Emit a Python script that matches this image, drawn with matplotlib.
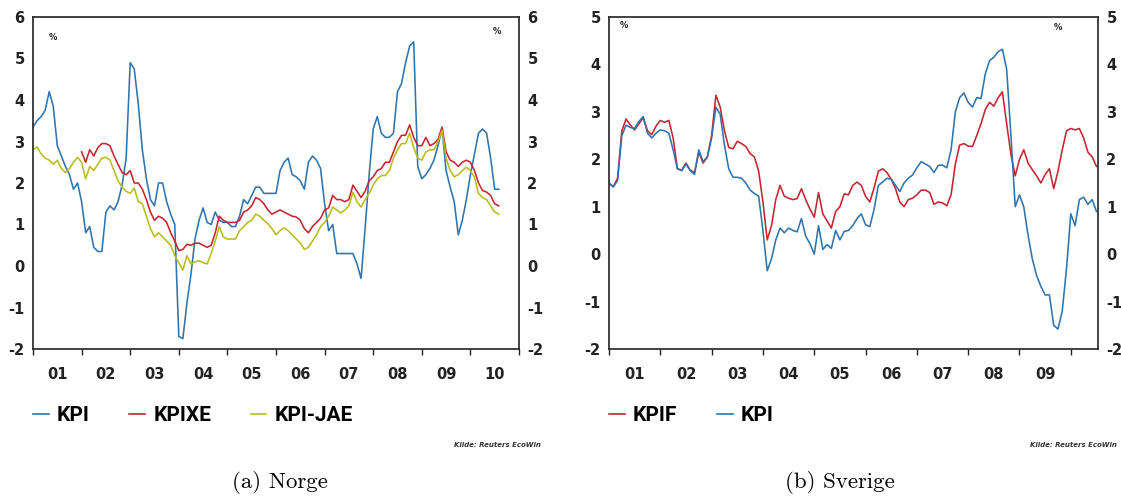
import numpy as np
import matplotlib
matplotlib.use('Agg')
import matplotlib.pyplot as plt
from matplotlib.lines import Line2D

# ---------------- data (monthly, 12-month change in %) ----------------
start_year = 2001

# Norway, Jan 2001 - Aug 2010
no_kpi = [3.35, 3.5, 3.6, 3.75, 4.2, 3.85, 2.9, 2.65, 2.4, 2.2, 1.85, 2.0,
          1.55, 0.8, 0.95, 0.45, 0.35, 0.35, 1.3, 1.45, 1.35, 1.55, 1.95, 2.6,
          4.9, 4.75, 3.9, 2.8, 2.1, 1.6, 1.45, 2.0, 2.0, 1.55, 1.25, 1.0,
          -1.7, -1.75, -0.9, -0.2, 0.65, 1.1, 1.4, 1.05, 1.0, 1.3, 1.1, 1.05,
          1.05, 0.95, 0.95, 1.2, 1.6, 1.5, 1.7, 1.9, 1.9, 1.75, 1.75, 1.75,
          1.75, 2.3, 2.5, 2.6, 2.2, 2.15, 2.05, 1.85, 2.5, 2.65, 2.55, 2.35,
          1.5, 0.85, 1.0, 0.3, 0.3, 0.3, 0.3, 0.3, 0.05, -0.3, 0.9, 2.2,
          3.3, 3.6, 3.2, 3.1, 3.1, 3.2, 4.2, 4.4, 4.9, 5.3, 5.4, 2.4,
          2.1, 2.2, 2.35, 2.55, 2.9, 3.3, 2.3, 1.9, 1.55, 0.75, 1.1, 1.6,
          2.2, 2.7, 3.2, 3.3, 3.2, 2.6, 1.85, 1.85]
# KPIXE starts Jan 2002
no_kpixe = [2.75, 2.5, 2.8, 2.65, 2.85, 2.95, 2.95, 2.9, 2.65, 2.45, 2.25, 2.2,
            2.3, 2.0, 2.0, 1.85, 1.6, 1.3, 1.1, 1.2, 1.15, 1.05, 0.8, 0.6,
            0.37, 0.4, 0.52, 0.5, 0.55, 0.55, 0.5, 0.45, 0.5, 0.8, 1.2, 1.1,
            1.05, 1.05, 1.05, 1.1, 1.3, 1.35, 1.45, 1.65, 1.6, 1.5, 1.35, 1.25,
            1.3, 1.35, 1.3, 1.25, 1.2, 1.18, 1.1, 0.9, 0.8, 0.95, 1.05, 1.15,
            1.35, 1.4, 1.7, 1.6, 1.6, 1.55, 1.6, 1.95, 1.8, 1.65, 1.8, 2.05,
            2.15, 2.3, 2.35, 2.5, 2.5, 2.75, 3.0, 3.15, 3.15, 3.4, 3.1, 2.9,
            2.9, 3.1, 2.9, 2.95, 3.05, 3.35, 2.75, 2.55, 2.5, 2.4, 2.5, 2.55,
            2.5, 2.3, 2.0, 1.82, 1.78, 1.7, 1.5, 1.45]
no_kpijae = [2.8, 2.87, 2.7, 2.6, 2.55, 2.45, 2.55, 2.35, 2.25, 2.35, 2.5, 2.62,
             2.5, 2.1, 2.4, 2.3, 2.45, 2.6, 2.62, 2.55, 2.3, 2.05, 1.9, 1.8,
             1.75, 1.88, 1.55, 1.5, 1.2, 0.9, 0.7, 0.8, 0.7, 0.6, 0.5, 0.25,
             0.08, -0.1, 0.25, 0.05, 0.1, 0.13, 0.08, 0.05, 0.3, 0.6, 0.95, 0.7,
             0.65, 0.65, 0.65, 0.85, 0.95, 1.05, 1.1, 1.25, 1.2, 1.1, 1.02, 0.9,
             0.75, 0.85, 0.92, 0.85, 0.75, 0.65, 0.55, 0.4, 0.45, 0.6, 0.75, 0.95,
             1.05, 1.2, 1.42, 1.35, 1.28, 1.35, 1.45, 1.78, 1.55, 1.42, 1.6, 1.75,
             1.95, 2.1, 2.18, 2.18, 2.3, 2.6, 2.8, 2.95, 2.95, 3.2, 2.85, 2.6,
             2.55, 2.75, 2.8, 2.8, 3.0, 3.27, 2.6, 2.3, 2.15, 2.2, 2.3, 2.38,
             2.3, 2.14, 1.75, 1.65, 1.6, 1.45, 1.3, 1.25]

# Sweden, Jan 2001 - Jul 2010
se_kpif = [1.5, 1.42, 1.6, 2.6, 2.85, 2.72, 2.62, 2.75, 2.88, 2.6, 2.52, 2.7,
           2.82, 2.78, 2.82, 2.45, 1.8, 1.77, 1.92, 1.77, 1.72, 2.15, 1.92, 2.05,
           2.5, 3.35, 3.1, 2.6, 2.25, 2.22, 2.38, 2.33, 2.27, 2.12, 2.05, 1.75,
           1.1, 0.3, 0.6, 1.15, 1.45, 1.22, 1.18, 1.15, 1.17, 1.38, 1.15, 0.95,
           0.78, 1.3, 0.85, 0.7, 0.55, 0.9, 1.0, 1.27, 1.25, 1.45, 1.52, 1.45,
           1.22, 1.1, 1.4, 1.75, 1.8, 1.72, 1.58, 1.38, 1.1, 1.0, 1.15, 1.18,
           1.25, 1.35, 1.35, 1.3, 1.05, 1.1, 1.08, 1.02, 1.25, 1.9, 2.3, 2.33,
           2.28, 2.27, 2.5, 2.75, 3.05, 3.2, 3.12, 3.3, 3.42, 2.75, 2.1, 1.65,
           2.0, 2.2, 1.92, 1.78, 1.65, 1.5, 1.68, 1.8, 1.38, 1.75, 2.2, 2.6,
           2.65, 2.62, 2.65, 2.45, 2.15, 2.05, 1.85]
se_kpi = [1.5, 1.42, 1.55, 2.5, 2.72, 2.67, 2.65, 2.8, 2.9, 2.55, 2.45, 2.55,
          2.62, 2.6, 2.55, 2.2, 1.8, 1.76, 1.9, 1.76, 1.68, 2.2, 1.95, 2.05,
          2.45, 3.1, 2.95, 2.3, 1.8, 1.62, 1.62, 1.6, 1.5, 1.35, 1.28, 1.22,
          0.5, -0.35, -0.1, 0.3, 0.55, 0.45, 0.55, 0.5, 0.47, 0.75, 0.38, 0.22,
          0.0, 0.6, 0.1, 0.2, 0.12, 0.5, 0.3, 0.48, 0.5, 0.6, 0.75, 0.85,
          0.62, 0.58, 0.95, 1.45, 1.52, 1.6, 1.58, 1.45, 1.32, 1.5, 1.6, 1.67,
          1.82, 1.95, 1.9, 1.85, 1.72, 1.87, 1.88, 1.82, 2.2, 3.0, 3.3, 3.4,
          3.2, 3.1, 3.3, 3.28, 3.8, 4.08, 4.15, 4.27, 4.32, 3.9, 2.5, 1.0,
          1.25, 1.0, 0.4, -0.1, -0.45, -0.68, -0.86, -0.86, -1.5, -1.58, -1.2, -0.3,
          0.85, 0.6, 1.15, 1.2, 1.05, 1.15, 0.9]

no_year_labels = ['01', '02', '03', '04', '05', '06', '07', '08', '09', '10']
se_year_labels = ['01', '02', '03', '04', '05', '06', '07', '08', '09']
no_legend = ['KPI', 'KPIXE', 'KPI-JAE']
se_legend = ['KPIF', 'KPI']

# ---------------- style ----------------
C_BLUE = '#2f74ad'
C_RED = '#c62530'
C_YEL = '#b9bc1c'
LW = 1.15
plt.rcParams['font.family'] = ['DejaVu Sans']

W, H = 1121, 501
fig = plt.figure(figsize=(W / 100, H / 100), dpi=100)


def axes_px(x0, x1, y0, y1):
    return fig.add_axes([x0 / W, 1 - y1 / H, (x1 - x0) / W, (y1 - y0) / H])


ax1 = axes_px(33, 519, 17, 349)
ax2 = axes_px(609, 1098, 17, 349)


def months(n, offset=0):
    return start_year + (np.arange(n) + offset) / 12.0


def style(ax, xmax, ymin, ymax, labels):
    ax.set_xlim(start_year, xmax)
    ax.set_ylim(ymin, ymax)
    n = len(labels)
    ax.set_xticks(np.arange(start_year, start_year + n + 1))
    ax.set_xticklabels([])
    ax.set_xticks(np.arange(n) + start_year + 0.5, minor=True)
    ax.set_xticklabels(labels, minor=True, fontweight='bold', fontsize=10.5,
                       color='#222222')
    ax.tick_params(axis='x', which='major', direction='out', length=4,
                   width=1.0, color='#222222')
    ax.tick_params(axis='x', which='minor', length=0, pad=13)
    ax.set_yticks(np.arange(ymin, ymax + 1))
    ax.set_yticklabels([str(v) for v in range(ymin, ymax + 1)],
                       fontweight='bold', fontsize=10.5, color='#222222')
    ax.tick_params(axis='y', length=0, pad=6, labelleft=True, labelright=True)
    for s in ax.spines.values():
        s.set_linewidth(1.2)
        s.set_color('#222222')


# Norway
ax1.plot(months(len(no_kpi)), no_kpi, color=C_BLUE, lw=LW)
ax1.plot(months(len(no_kpixe), 12), no_kpixe, color=C_RED, lw=LW)
ax1.plot(months(len(no_kpijae)), no_kpijae, color=C_YEL, lw=LW)
style(ax1, 2010.74, -2, 6, no_year_labels)

# Sweden
ax2.plot(months(len(se_kpif)), se_kpif, color=C_RED, lw=LW)
ax2.plot(months(len(se_kpi)), se_kpi, color=C_BLUE, lw=LW)
style(ax2, 2010.53, -2, 5, se_year_labels)

leg_font = {'family': ['Roboto', 'DejaVu Sans'], 'weight': 'bold', 'size': 15}


def legend(ax, colors, labels):
    handles = [Line2D([0], [0], color=c, lw=1.2) for c in colors]
    ax.legend(handles, labels, loc='center left', bbox_to_anchor=(0.0, -0.2),
              ncol=len(labels), frameon=False, handlelength=0.75,
              handletextpad=0.4, columnspacing=1.9, borderpad=0,
              borderaxespad=0, prop=leg_font)


legend(ax1, [C_BLUE, C_RED, C_YEL], no_legend)
legend(ax2, [C_RED, C_BLUE], se_legend)

# % markers
for (x, y) in [(53, 38), (497, 32), (624, 25), (1058, 27)]:
    fig.text(x / W, 1 - y / H, '%', fontsize=6, fontweight='bold',
             ha='center', va='center', color='#222222')

# source notes
for x in [541, 1117]:
    fig.text(x / W, 1 - 445 / H, 'Kilde: Reuters EcoWin', fontsize=5,
             style='italic', fontweight='bold', ha='right', va='center',
             color='#333333')

# captions
fig.text(280 / W, 1 - 483 / H, '(a) Norge', fontsize=16.5, family='cmr10',
         ha='center', va='center')
fig.text(840 / W, 1 - 483 / H, '(b) Sverige', fontsize=16.5, family='cmr10',
         ha='center', va='center')

fig.savefig('out.png', dpi=100)
